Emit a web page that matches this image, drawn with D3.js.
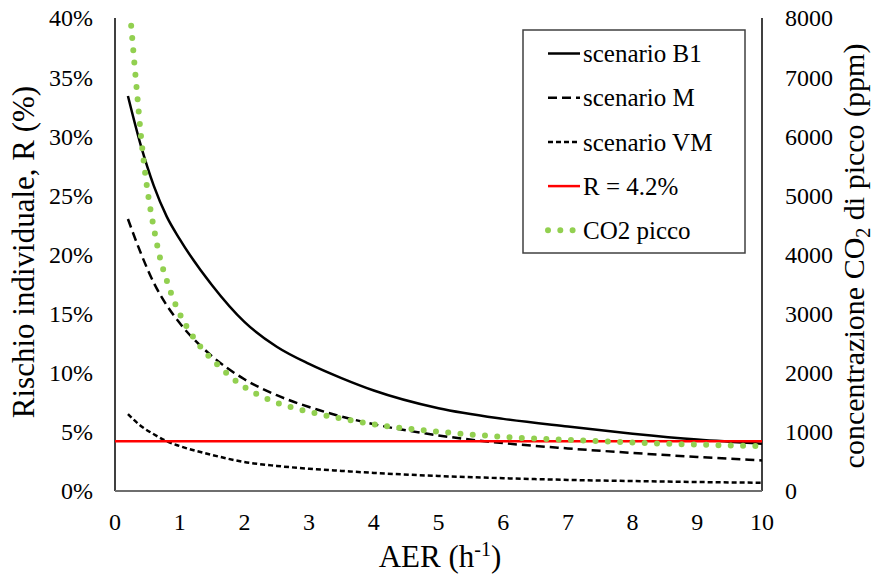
<!DOCTYPE html>
<html>
<head>
<meta charset="utf-8">
<script src="https://cdn.jsdelivr.net/npm/d3@7"></script>
</head>
<body style="margin:0">
<svg id="chart" width="877" height="576"></svg>
<script>
// ---- data ----
const aer = [0.2,0.4,0.6,0.8,1,1.5,2,2.5,3,3.5,4,5,6,7,8,9,10];
const scenarioB1 = [33.4,29.2,25.8,23.2,21.3,17.4,14.3,12.2,10.75,9.55,8.5,7.0,6.1,5.45,4.85,4.35,4.0];
const scenarioM  = [23.0,20.1,17.6,15.7,14.2,11.4,9.45,8.1,7.1,6.3,5.65,4.7,4.05,3.6,3.22,2.88,2.58];
const scenarioVM = [6.5,5.5,4.8,4.2,3.8,3.05,2.45,2.12,1.88,1.7,1.53,1.27,1.08,0.94,0.84,0.76,0.70];
const threshold = 4.2;
const co2Aer = [0.25,0.3,0.35,0.4,0.45,0.5,0.6,0.7,0.8,0.9,1,1.2,1.4,1.6,1.8,2,2.5,3,3.5,4,5,6,7,8,9,10];
const co2Peak = [7870,7230,6620,6020,5520,5100,4450,3924,3560,3250,3000,2620,2340,2119,1920,1760,1495,1340,1225,1127,1003,916,864,820,784,761];
const xTicks = [0,1,2,3,4,5,6,7,8,9,10];
const yLeftTicks = [0,5,10,15,20,25,30,35,40];
const yRightTicks = [0,1000,2000,3000,4000,5000,6000,7000,8000];
const legendLabels = ["scenario B1","scenario M","scenario VM","R = 4.2%","CO2 picco"];

// ---- layout ----
const FONT = "'Liberation Serif', Tinos, FreeSerif, serif";
const svg = d3.select("#chart");
const pL = 115, pR = 762, pT = 18, pB = 491;
const x = d3.scaleLinear().domain([0,10]).range([pL,pR]);
const yL = d3.scaleLinear().domain([0,40]).range([pB,pT]);
const yR = d3.scaleLinear().domain([0,8000]).range([pB,pT]);
function serif(sel){ return sel.attr("font-family",FONT).style("font-family",FONT,"important"); }

// axes lines
svg.append("line").attr("x1",pL).attr("x2",pL).attr("y1",pT).attr("y2",pB)
  .attr("stroke","#000").attr("stroke-width",1.5);
svg.append("line").attr("x1",pR).attr("x2",pR).attr("y1",pT).attr("y2",pB)
  .attr("stroke","#000").attr("stroke-width",1.5);
svg.append("line").attr("x1",pL).attr("x2",pR).attr("y1",pB).attr("y2",pB)
  .attr("stroke","#6e6e6e").attr("stroke-width",2);

// tick labels
svg.append("g").selectAll("text").data(yLeftTicks).join("text")
  .call(serif).attr("fill","#000")
  .attr("x",93).attr("y",d=>yL(d)).attr("dy","0.35em")
  .attr("text-anchor","end").attr("font-size",24).text(d=>d+"%");
svg.append("g").selectAll("text").data(yRightTicks).join("text")
  .call(serif).attr("fill","#000")
  .attr("x",785).attr("y",d=>yR(d)).attr("dy","0.35em")
  .attr("text-anchor","start").attr("font-size",24).text(d=>d);
svg.append("g").selectAll("text").data(xTicks).join("text")
  .call(serif).attr("fill","#000")
  .attr("x",d=>x(d)).attr("y",530)
  .attr("text-anchor","middle").attr("font-size",24).text(d=>d);

// axis titles
svg.append("text").call(serif).attr("transform","translate(34,252) rotate(-90)")
  .attr("text-anchor","middle").attr("font-size",31).text("Rischio individuale, R (%)");
const rt = svg.append("text").call(serif).attr("transform","translate(864,256) rotate(-90)")
  .attr("text-anchor","middle").attr("font-size",30);
rt.append("tspan").text("concentrazione CO");
rt.append("tspan").attr("font-size",20).attr("dy",6).text("2");
rt.append("tspan").attr("dy",-6).text(" di picco (ppm)");
const xt = svg.append("text").call(serif).attr("x",440).attr("y",567)
  .attr("text-anchor","middle").attr("font-size",31);
xt.append("tspan").text("AER (h");
xt.append("tspan").attr("font-size",20).attr("dy",-11).text("-1");
xt.append("tspan").attr("dy",11).text(")");

// series
const lineL = d3.line().x(d=>x(d[0])).y(d=>yL(d[1])).curve(d3.curveMonotoneX);
const lineR = d3.line().x(d=>x(d[0])).y(d=>yR(d[1])).curve(d3.curveMonotoneX);
svg.append("path").datum(aer.map((a,i)=>[a,scenarioB1[i]])).attr("d",lineL)
  .attr("fill","none").attr("stroke","#000").attr("stroke-width",2.5);
svg.append("path").datum(aer.map((a,i)=>[a,scenarioM[i]])).attr("d",lineL)
  .attr("fill","none").attr("stroke","#000").attr("stroke-width",2.5).attr("stroke-dasharray","9,5");
svg.append("path").datum(aer.map((a,i)=>[a,scenarioVM[i]])).attr("d",lineL)
  .attr("fill","none").attr("stroke","#000").attr("stroke-width",2.5).attr("stroke-dasharray","5,3");
svg.append("line").attr("x1",x(0)).attr("x2",x(10)).attr("y1",yL(threshold)).attr("y2",yL(threshold))
  .attr("stroke","#ff0000").attr("stroke-width",2.5);
svg.append("path").datum(co2Aer.map((a,i)=>[a,co2Peak[i]])).attr("d",lineR)
  .attr("fill","none").attr("stroke","#92d050").attr("stroke-width",6)
  .attr("stroke-linecap","round").attr("stroke-dasharray","0,12.3");

// legend
const lg = svg.append("g");
lg.append("rect").attr("x",523).attr("y",30).attr("width",222).attr("height",223)
  .attr("fill","#fff").attr("stroke","#404040").attr("stroke-width",1.5);
const rowY = i => 53.5 + i*44.2;
const legendStyles = [
  {stroke:"#000",dash:null,w:2.5,cap:"butt"},
  {stroke:"#000",dash:"9,5",w:2.5,cap:"butt"},
  {stroke:"#000",dash:"5,3",w:2.5,cap:"butt"},
  {stroke:"#ff0000",dash:null,w:2.5,cap:"butt"},
  {stroke:"#92d050",dash:"0,12.3",w:6,cap:"round"}
];
legendLabels.forEach((lab,i)=>{
  const s = legendStyles[i];
  lg.append("line").attr("x1",548).attr("x2",i===4?575:580).attr("y1",rowY(i)).attr("y2",rowY(i))
    .attr("stroke",s.stroke).attr("stroke-width",s.w).attr("stroke-dasharray",s.dash)
    .attr("stroke-linecap",s.cap);
  lg.append("text").call(serif).attr("x",583).attr("y",rowY(i)).attr("dy","0.35em")
    .attr("font-size",25).text(lab);
});
</script>
</body>
</html>
